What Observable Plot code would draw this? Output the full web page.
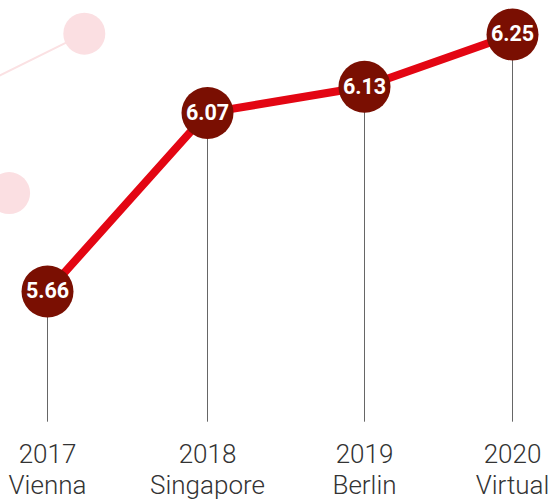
<!DOCTYPE html>
<html>
<head>
<meta charset="utf-8">
<script src="https://cdn.jsdelivr.net/npm/d3@7"></script>
<script src="https://cdn.jsdelivr.net/npm/@observablehq/plot@0.6"></script>
<style>
  html, body { margin: 0; padding: 0; background: #fff; }
  #chart svg { display: block; font-family: Roboto, sans-serif; }
</style>
</head>
<body>
<div id="chart"></div>
<script>
// Data
const years = [2017, 2018, 2019, 2020];
const cities = ["Vienna", "Singapore", "Berlin", "Virtual"];
const values = [5.66, 6.07, 6.13, 6.25];
const baseline = 5.36; // where the drop lines end

// Faded decorative series (previous state), in the same units
const ghostLineYears = [2016.45, 2017.23];
const ghostLineValues = [6.11, 6.252];
const ghostDotYears = [2017.23, 2016.76];
const ghostDotValues = [6.252, 5.886];

const data = years.map((y, i) => ({year: y, city: cities[i], value: values[i]}));
const ghostLine = ghostLineYears.map((y, i) => ({year: y, value: ghostLineValues[i]}));
const ghostDots = ghostDotYears.map((y, i) => ({year: y, value: ghostDotValues[i]}));

const chart = Plot.plot({
  width: 548,
  height: 501,
  marginTop: 0,
  marginRight: 0,
  marginLeft: 0,
  marginBottom: 79,
  x: {type: "linear", domain: years, range: [47, 207, 364, 512], axis: null},
  y: {domain: [5.66, 6.25], range: [291, 34], axis: null},
  marks: [
    Plot.line(ghostLine, {x: "year", y: "value", stroke: "#fbe1e3", strokeWidth: 2, clip: true}),
    Plot.dot(ghostDots, {x: "year", y: "value", r: 21, fill: "#fbdfe2", stroke: "none", clip: true}),
    Plot.ruleX(data, {x: "year", y1: baseline, y2: "value", stroke: "#666", strokeWidth: 1}),
    Plot.line(data, {x: "year", y: "value", stroke: "#e30613", strokeWidth: 8}),
    Plot.dot(data, {x: "year", y: "value", r: 26, fill: "#7a0f02", stroke: "none"}),
    Plot.text(data, {x: "year", y: "value", text: d => d.value.toFixed(2), fill: "#fff", fontSize: 21.5, fontWeight: "bold", textAnchor: "middle", lineAnchor: "middle"}),
    Plot.text(data, {x: "year", frameAnchor: "bottom", text: d => d.year + "\n" + d.city, lineAnchor: "top", dy: 19, fontSize: 26, fontWeight: 300, lineHeight: 1.17, fill: "#333"})
  ]
});
document.getElementById("chart").appendChild(chart);
</script>
</body>
</html>
